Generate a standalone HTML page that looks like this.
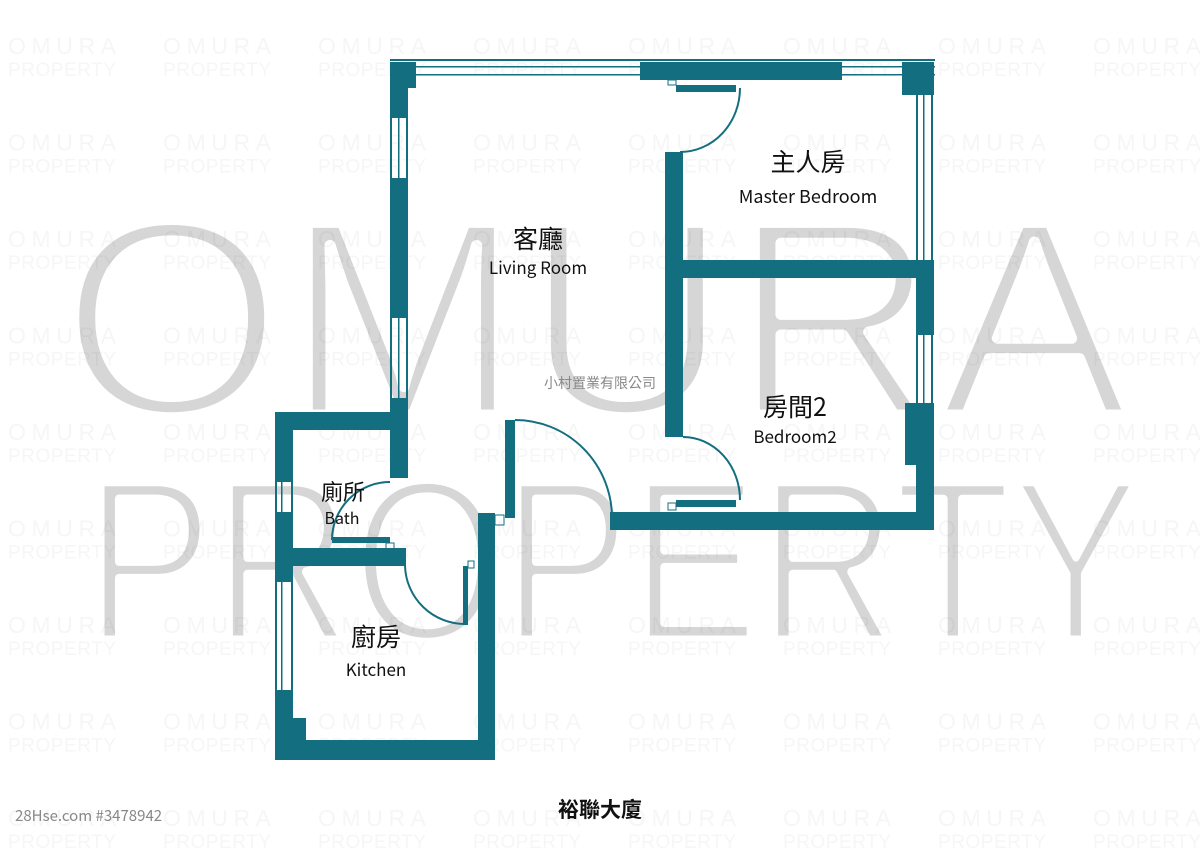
<!DOCTYPE html>
<html><head><meta charset="utf-8"><style>
html,body{margin:0;padding:0;background:#fff;}
svg{display:block;}
</style></head><body>
<svg width="1200" height="849" viewBox="0 0 1200 849" xmlns="http://www.w3.org/2000/svg" font-family="Noto Sans CJK TC, Liberation Sans, sans-serif">
<defs>
<pattern id="wm" x="8" y="28" width="155" height="96.5" patternUnits="userSpaceOnUse">
<text x="0" y="26" font-size="23" fill="#000" fill-opacity="0.035" textLength="108" font-family="Liberation Sans, sans-serif">OMURA</text>
<text x="0" y="48" font-size="19" fill="#000" fill-opacity="0.035" textLength="108" font-family="Liberation Sans, sans-serif">PROPERTY</text>
</pattern>
</defs>
<g font-family="Liberation Sans, sans-serif" fill="#d6d6d6" stroke="#fff" stroke-linejoin="round" paint-order="fill">
<text x="60" y="415" font-size="280" stroke-width="11" textLength="1070" lengthAdjust="spacingAndGlyphs">OMURA</text>
<text x="85" y="640" font-size="230" stroke-width="9" textLength="1055" lengthAdjust="spacingAndGlyphs">PROPERTY</text>
</g>
<rect width="1200" height="849" fill="url(#wm)"/>

<g fill="#136f80">
<rect x="390" y="59" width="545" height="2"/>
<rect x="390" y="66" width="545" height="1.5"/>
<rect x="390" y="74" width="545" height="1.5"/>
<rect x="390" y="62" width="26" height="26"/>
<rect x="390" y="62" width="18" height="56"/>
<rect x="640" y="62" width="202" height="18"/>
<rect x="902" y="62" width="32" height="33"/>
<rect x="390" y="118" width="2" height="60"/><rect x="398" y="118" width="1.5" height="60"/><rect x="406" y="118" width="2" height="60"/>
<rect x="390" y="178" width="18" height="140"/>
<rect x="390" y="318" width="2" height="80"/><rect x="398" y="318" width="1.5" height="80"/><rect x="406" y="318" width="2" height="80"/>
<rect x="390" y="398" width="18" height="80"/>
<rect x="916" y="95" width="2" height="165"/><rect x="923" y="95" width="1.5" height="165"/><rect x="931" y="95" width="2" height="165"/>
<rect x="916" y="260" width="18" height="75"/>
<rect x="916" y="335" width="2" height="70"/><rect x="923" y="335" width="1.5" height="70"/><rect x="931" y="335" width="2" height="70"/>
<rect x="905" y="403" width="29" height="62"/>
<rect x="916" y="403" width="18" height="127"/>
<rect x="610" y="512" width="324" height="18"/>
<rect x="665" y="152" width="18" height="285"/>
<rect x="665" y="260" width="269" height="18"/>
<rect x="676" y="85" width="60" height="7"/>
<rect x="676" y="500" width="60" height="7"/>
<rect x="505" y="420" width="10" height="98"/>
<rect x="275" y="412" width="133" height="18"/>
<rect x="275" y="412" width="18" height="70"/>
<rect x="275" y="482" width="2" height="32"/><rect x="281" y="482" width="1.5" height="32"/><rect x="291" y="482" width="2" height="32"/>
<rect x="275" y="512" width="18" height="70"/>
<rect x="275" y="582" width="2" height="108"/><rect x="281" y="582" width="1.5" height="108"/><rect x="291" y="582" width="2" height="108"/>
<rect x="275" y="690" width="18" height="70"/>
<rect x="275" y="740" width="220" height="20"/>
<rect x="293" y="718" width="13" height="22"/>
<rect x="478" y="513" width="17" height="247"/>
<rect x="275" y="548" width="131" height="18"/>
<rect x="332" y="537" width="58" height="6"/>
<rect x="463" y="566" width="5" height="59"/>
</g>
<g fill="none" stroke="#136f80" stroke-width="2">
<path d="M740 88 A60 64 0 0 1 680 152"/>
<path d="M683 437 A57 63 0 0 1 740 500"/>
<path d="M515 420 A97 98 0 0 1 612 518"/>
<path d="M332 540 A58 58 0 0 1 390 482"/>
<path d="M405 566 A60 60 0 0 0 465 624"/>
<rect x="668" y="503" width="8" height="7" stroke-width="1"/>
<rect x="386" y="543" width="8" height="6" stroke-width="1"/>
<rect x="468" y="561" width="6" height="7" stroke-width="1"/>
<rect x="495" y="515" width="9" height="10" stroke-width="1"/>
<rect x="668" y="80" width="8" height="5" stroke-width="1"/>
</g>
<g fill="#111" text-anchor="middle">
<text x="538" y="248" font-size="25">客廳</text>
<text x="538" y="274" font-size="17">Living Room</text>
<text x="808" y="171" font-size="25">主人房</text>
<text x="808" y="203" font-size="18">Master Bedroom</text>
<text x="795" y="416" font-size="25">房間2</text>
<text x="795" y="443" font-size="17">Bedroom2</text>
<text x="343" y="500" font-size="22">廁所</text>
<text x="342" y="524" font-size="16">Bath</text>
<text x="376" y="646" font-size="25">廚房</text>
<text x="376" y="676" font-size="17">Kitchen</text>
<text x="600" y="388" font-size="14" fill="#888">小村置業有限公司</text>
<text x="600" y="817" font-size="21" font-weight="bold">裕聯大廈</text>
</g>
<text x="15" y="821" font-size="15" fill="#888">28Hse.com #3478942</text>
</svg>
</body></html>
